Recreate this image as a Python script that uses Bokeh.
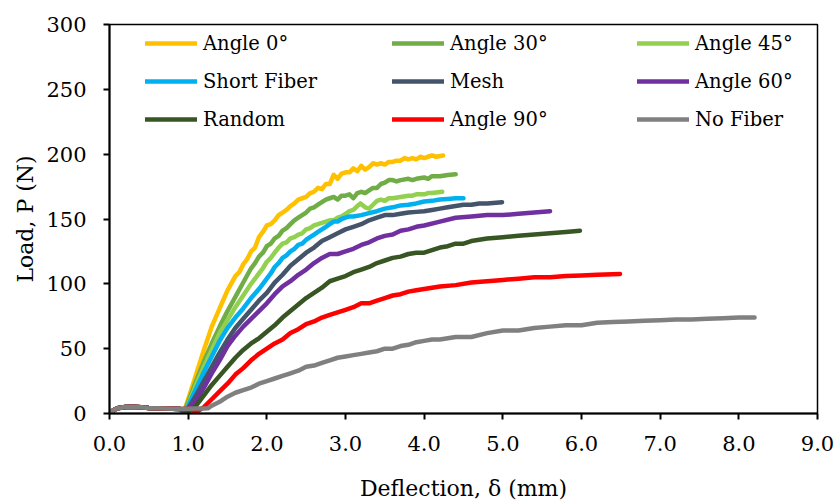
from bokeh.plotting import figure
from bokeh.models import Range1d, Legend, LegendItem, FixedTicker, NumeralTickFormatter
from bokeh.embed import file_html
from bokeh.resources import INLINE

# ---------------- data ----------------
pre_x = [0.0, 0.05, 0.1, 0.2, 0.3, 0.4, 0.5, 0.6, 0.7, 0.8, 0.9]
pre_p = [0.0, 2.5, 4.0, 5.0, 5.2, 4.8, 4.3, 4.0, 3.8, 3.6, 3.5]

a0_x = [0.94, 1.0, 1.1, 1.2, 1.3, 1.4, 1.5, 1.6, 1.65, 1.7, 1.75, 1.8, 1.85, 1.9, 1.95, 2.0, 2.05, 2.1, 2.15,
        2.2, 2.25, 2.3, 2.35, 2.4, 2.45, 2.5, 2.55, 2.6, 2.65, 2.7, 2.75, 2.8, 2.85, 2.9, 2.95, 3.0, 3.05,
        3.1, 3.15, 3.2, 3.25, 3.3, 3.35, 3.4, 3.45, 3.5, 3.55, 3.6, 3.65, 3.7, 3.75, 3.8, 3.85, 3.9, 3.95,
        4.0, 4.05, 4.1, 4.15, 4.24]
a0_p = [0, 11, 30, 49, 67, 81, 95, 106, 109, 115, 119, 125, 128, 136, 140, 145, 146, 149, 153,
        155, 157, 160, 162, 165, 166, 167, 170, 171, 174, 173, 177, 177, 184, 181, 185, 186, 186,
        189, 187, 191, 188, 190, 193, 192, 193, 192, 194, 194, 195, 195, 197, 196, 197, 196, 198,
        197, 198, 199, 198, 199]

a30_x = [0.94, 1.0, 1.1, 1.2, 1.3, 1.4, 1.5, 1.6, 1.7, 1.8, 1.85, 1.9, 1.95, 2.0, 2.05, 2.1, 2.15, 2.2, 2.25,
         2.3, 2.35, 2.4, 2.45, 2.5, 2.55, 2.6, 2.65, 2.7, 2.75, 2.8, 2.85, 2.9, 2.95, 3.0, 3.05, 3.1, 3.15,
         3.2, 3.25, 3.3, 3.35, 3.4, 3.45, 3.5, 3.55, 3.6, 3.65, 3.7, 3.8, 3.85, 3.9, 4.0, 4.05, 4.1, 4.2,
         4.3, 4.4]
a30_p = [0, 9, 25, 40, 54, 67, 79, 90, 101, 112, 116, 121, 124, 129, 131, 135, 137, 141, 143,
         146, 149, 151, 153, 155, 158, 159, 161, 163, 165, 166, 167, 165, 168, 168, 169, 166, 170,
         171, 170, 172, 174, 174, 177, 178, 180, 180, 179, 180, 181, 180, 181, 182, 181, 183, 183,
         184, 184.5]

a45_x = [0.95, 1.0, 1.1, 1.2, 1.3, 1.4, 1.5, 1.6, 1.7, 1.8, 1.9, 1.95, 2.0, 2.05, 2.1, 2.15, 2.2, 2.25, 2.3,
         2.35, 2.4, 2.45, 2.5, 2.55, 2.6, 2.65, 2.7, 2.75, 2.8, 2.85, 2.9, 2.95, 3.0, 3.05, 3.1, 3.15, 3.19,
         3.25, 3.3, 3.35, 3.4, 3.45, 3.5, 3.55, 3.6, 3.7, 3.8, 3.85, 3.9, 4.0, 4.05, 4.1, 4.23]
a45_p = [0, 7, 22, 36, 49, 62, 72, 82, 91, 100, 108, 112, 117, 120, 124, 128, 131, 132, 135,
         136, 138, 139, 142, 143, 145, 146, 147, 148, 149, 149, 151, 152, 154, 156, 157, 160, 162,
         159, 158, 161, 164, 165, 164, 166, 166, 167, 168, 168, 169, 169, 170, 170, 171]

sf_x = [0.94, 1.0, 1.1, 1.2, 1.3, 1.4, 1.5, 1.6, 1.7, 1.8, 1.9, 2.0, 2.05, 2.1, 2.15, 2.2, 2.25, 2.3, 2.35,
        2.4, 2.45, 2.5, 2.55, 2.6, 2.65, 2.7, 2.75, 2.8, 2.85, 2.9, 2.95, 3.0, 3.05, 3.1, 3.2, 3.3, 3.4,
        3.5, 3.6, 3.7, 3.8, 3.9, 4.0, 4.1, 4.2, 4.3, 4.4, 4.5]
sf_p = [0, 6, 19, 32, 44, 56, 66, 74, 81, 89, 96, 104, 108, 113, 116, 120, 122, 125, 127,
        130, 131, 134, 136, 138, 140, 142, 144, 146, 148, 148, 150, 151, 152, 152, 153, 154.5, 156,
        158, 159, 160.5, 161, 162, 163.5, 164, 165, 165.5, 166, 166]

mesh_x = [0.95, 1.0, 1.1, 1.2, 1.3, 1.4, 1.5, 1.6, 1.7, 1.8, 1.9, 2.0, 2.1, 2.2, 2.3, 2.4, 2.5, 2.6, 2.7, 2.8, 2.9,
          3.0, 3.1, 3.2, 3.3, 3.4, 3.5, 3.6, 3.7, 3.8, 3.9, 4.0, 4.1, 4.2, 4.3, 4.4, 4.5, 4.6, 4.7, 4.8, 4.99]
mesh_p = [0, 4, 14, 25, 36, 47, 57, 66, 73, 80, 87, 93, 101, 107, 114, 119, 124, 128, 133, 136, 139,
          142, 144, 146, 149, 151, 153, 153, 154, 155, 155.5, 156, 157, 158, 159, 160, 161, 161, 162, 162, 163]

a60_x = [0.96, 1.0, 1.1, 1.2, 1.3, 1.4, 1.5, 1.6, 1.7, 1.8, 1.9, 2.0, 2.1, 2.2, 2.3, 2.4, 2.5, 2.6, 2.7, 2.8, 2.9,
         3.0, 3.1, 3.2, 3.3, 3.4, 3.5, 3.6, 3.7, 3.8, 3.9, 4.0, 4.2, 4.4, 4.6, 4.8, 5.0, 5.2, 5.4, 5.6]
a60_p = [0, 3, 10, 20, 31, 41, 52, 60, 67, 73, 79, 85, 92, 98, 102, 107, 111, 116, 120, 123, 123,
         125, 127, 130, 132, 135, 137, 138, 141, 142, 144, 145, 148, 151, 152, 153, 153, 154, 155, 156]

rnd_x = [1.0, 1.1, 1.2, 1.3, 1.4, 1.5, 1.6, 1.7, 1.8, 1.9, 2.0, 2.1, 2.2, 2.3, 2.4, 2.5, 2.6, 2.7, 2.8, 2.9,
         3.0, 3.1, 3.2, 3.3, 3.4, 3.5, 3.6, 3.7, 3.8, 3.9, 4.0, 4.1, 4.2, 4.3, 4.4, 4.5, 4.6, 4.7, 4.8,
         5.0, 5.2, 5.4, 5.6, 5.8, 5.98]
rnd_p = [1, 6, 14, 22, 29, 36, 43, 49, 54, 58, 63, 68, 74, 79, 84, 89, 93, 97, 102, 104,
         106, 109, 111, 113, 116, 118, 120, 121, 123, 124, 124, 126, 128, 129, 131, 131, 133, 134, 135,
         136, 137, 138, 139, 140, 141]

a90_x = [1.0, 1.05, 1.09, 1.2, 1.3, 1.4, 1.5, 1.6, 1.7, 1.8, 1.9, 2.0, 2.1, 2.2, 2.3, 2.4, 2.5, 2.6, 2.7, 2.8, 2.9,
         3.0, 3.1, 3.2, 3.3, 3.4, 3.5, 3.6, 3.7, 3.8, 3.9, 4.0, 4.2, 4.4, 4.6, 4.8, 5.0, 5.2, 5.4, 5.6, 5.8,
         6.0, 6.2, 6.49]
a90_p = [3.6, 3.5, 0.5, 5, 11, 17, 23, 30, 35, 41, 46, 50, 54, 57, 62, 65, 69, 71, 74, 76, 78,
         80, 82, 85, 85, 87, 89, 91, 92, 94, 95, 96, 98, 99, 101, 102, 103, 104, 105, 105, 106,
         106.5, 107, 107.6]

nf_x = [1.0, 1.1, 1.2, 1.25, 1.3, 1.4, 1.5, 1.6, 1.7, 1.8, 1.9, 2.0, 2.1, 2.2, 2.3, 2.4, 2.5, 2.6, 2.7, 2.8, 2.9,
        3.0, 3.1, 3.2, 3.3, 3.4, 3.5, 3.6, 3.7, 3.8, 3.9, 4.0, 4.1, 4.2, 4.4, 4.6, 4.8, 5.0, 5.2, 5.4, 5.6,
        5.8, 6.0, 6.2, 6.4, 6.6, 6.8, 7.0, 7.2, 7.4, 7.6, 7.8, 8.0, 8.2]
nf_p = [3.6, 3.8, 3.9, 4, 6, 9, 13, 16, 18, 20, 23, 25, 27, 29, 31, 33, 36, 37, 39, 41, 43,
        44, 45, 46, 47, 48, 50, 50, 52, 53, 55, 56, 57, 57, 59, 59, 62, 64, 64, 66, 67,
        68, 68, 70, 70.5, 71, 71.5, 72, 72.5, 72.5, 73, 73.5, 74, 74]

names = ["Angle 0°", "Angle 30°", "Angle 45°", "Short Fiber", "Mesh", "Angle 60°", "Random", "Angle 90°", "No Fiber"]
colors = ["#FFC000", "#70AD47", "#92D050", "#00B0F0", "#44546A", "#7030A0", "#375623", "#FF0000", "#808080"]
series = [(a0_x, a0_p), (a30_x, a30_p), (a45_x, a45_p), (sf_x, sf_p), (mesh_x, mesh_p),
          (a60_x, a60_p), (rnd_x, rnd_p), (a90_x, a90_p), (nf_x, nf_p)]

x_ticks = [0, 1, 2, 3, 4, 5, 6, 7, 8, 9]
y_ticks = [0, 50, 100, 150, 200, 250, 300]

FONT = "DejaVu Serif"

p = figure(width=834, height=503, output_backend="svg", toolbar_location=None,
           x_range=Range1d(0, 9), y_range=Range1d(0, 300),
           min_border_left=109, min_border_right=17, min_border_top=24, min_border_bottom=89)

p.xgrid.visible = False
p.ygrid.visible = False
p.outline_line_color = "black"
p.outline_line_width = 1.5
p.outline_line_alpha = 1.0

renderers = []
for (xs, ps), c in zip(series, colors):
    r = p.line(pre_x + xs, pre_p + ps, line_color=c, line_width=4.5, line_cap="round", line_join="round")
    renderers.append(r)

for ax in (p.xaxis[0], p.yaxis[0]):
    ax.axis_line_color = "black"
    ax.axis_line_width = 2
    ax.major_tick_line_color = "black"
    ax.major_tick_line_width = 2
    ax.major_tick_out = 6
    ax.major_tick_in = 0
    ax.minor_tick_line_color = None
    ax.major_label_text_font = FONT
    ax.major_label_text_font_size = "21px"
    ax.major_label_text_color = "black"
    ax.axis_label_text_font = FONT
    ax.axis_label_text_font_size = "22px"
    ax.axis_label_text_font_style = "normal"
    ax.axis_label_text_color = "black"

p.xaxis.ticker = FixedTicker(ticks=x_ticks)
p.xaxis.formatter = NumeralTickFormatter(format="0.0")
p.yaxis.ticker = FixedTicker(ticks=y_ticks)
p.xaxis.axis_label = "Deflection, δ (mm)"
p.yaxis.axis_label = "Load, P (N)"
p.xaxis.major_label_standoff = 16
p.xaxis.axis_label_standoff = 22
p.yaxis.major_label_standoff = 17
p.yaxis.axis_label_standoff = 5

col_x = [36, 283, 528]
for ci in range(3):
    items = [LegendItem(label=names[ci + 3 * ri], renderers=[renderers[ci + 3 * ri]]) for ri in range(3)]
    lg = Legend(items=items, location=(col_x[ci], 282), orientation="vertical",
                glyph_width=52, glyph_height=24, label_height=24, label_standoff=6,
                spacing=14, padding=0, margin=0,
                border_line_color=None, background_fill_alpha=0,
                label_text_font=FONT, label_text_font_size="19.5px", label_text_color="black")
    p.add_layout(lg, "center")

open("out.html", "w").write(file_html(p, INLINE))
